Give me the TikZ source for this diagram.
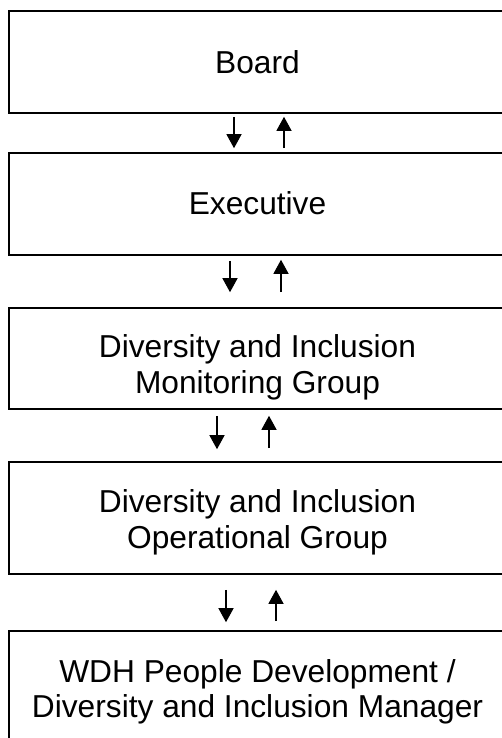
\documentclass[tikz,border=0pt]{standalone}
\usepackage{fontspec}
\setmainfont{Liberation Sans}
\usetikzlibrary{arrows.meta}
\begin{document}
\begin{tikzpicture}[
  box/.style={draw=black, line width=1.6bp, minimum width=496bp, inner sep=0pt, fill=none},
  txt/.style={font=\fontsize{31.7bp}{36bp}\selectfont, anchor=base, inner sep=0pt},
  arr/.style={line width=1.3bp, -{Triangle[width=15bp,length=14bp]}}
]
\useasboundingbox (0,0) rectangle (502bp,-738bp);
\clip (0,0) rectangle (502bp,-738bp);
% boxes
\node[box, minimum height=102bp] (b1) at (257bp,-62bp) {};
\node[box, minimum height=102bp] (b2) at (257bp,-204bp) {};
\node[box, minimum height=101bp] (b3) at (257bp,-358.5bp) {};
\node[box, minimum height=112bp] (b4) at (257bp,-518bp) {};
\node[box, minimum height=112bp] (b5) at (257bp,-687bp) {};
% texts
\node[txt] (t1) at (257.5bp,-73bp) {Board};
\node[txt] (t2) at (257.5bp,-214bp) {Executive};
\node[txt] (t3a) at (257.5bp,-357bp) {Diversity and Inclusion};
\node[txt] (t3b) at (257.5bp,-393bp) {Monitoring Group};
\node[txt] (t4a) at (257.5bp,-512bp) {Diversity and Inclusion};
\node[txt] (t4b) at (257.5bp,-548bp) {Operational Group};
\node[txt] (t5a) at (257.5bp,-682bp) {WDH People Development /};
\node[txt] (t5b) at (257.5bp,-717bp) {Diversity and Inclusion Manager};
% arrow x positions
\coordinate (d1) at (234bp,0);
\coordinate (u1) at (284bp,0);
\coordinate (d2) at (230bp,0);
\coordinate (u2) at (281bp,0);
\coordinate (d3) at (217bp,0);
\coordinate (u3) at (269bp,0);
\coordinate (d4) at (226bp,0);
\coordinate (u4) at (276bp,0);
% arrows
\draw[arr, shorten <=3bp, shorten >=4bp] (b1.south -| d1) -- (b2.north -| d1);
\draw[arr, shorten <=4bp, shorten >=3bp] (b2.north -| u1) -- (b1.south -| u1);
\draw[arr, shorten <=5bp, shorten >=15bp] (b2.south -| d2) -- (b3.north -| d2);
\draw[arr, shorten <=15bp, shorten >=4bp] (b3.north -| u2) -- (b2.south -| u2);
\draw[arr, shorten <=6bp, shorten >=12bp] (b3.south -| d3) -- (b4.north -| d3);
\draw[arr, shorten <=13bp, shorten >=6bp] (b4.north -| u3) -- (b3.south -| u3);
\draw[arr, shorten <=15bp, shorten >=8bp] (b4.south -| d4) -- (b5.north -| d4);
\draw[arr, shorten <=9bp, shorten >=15bp] (b5.north -| u4) -- (b4.south -| u4);
\end{tikzpicture}
\end{document}
